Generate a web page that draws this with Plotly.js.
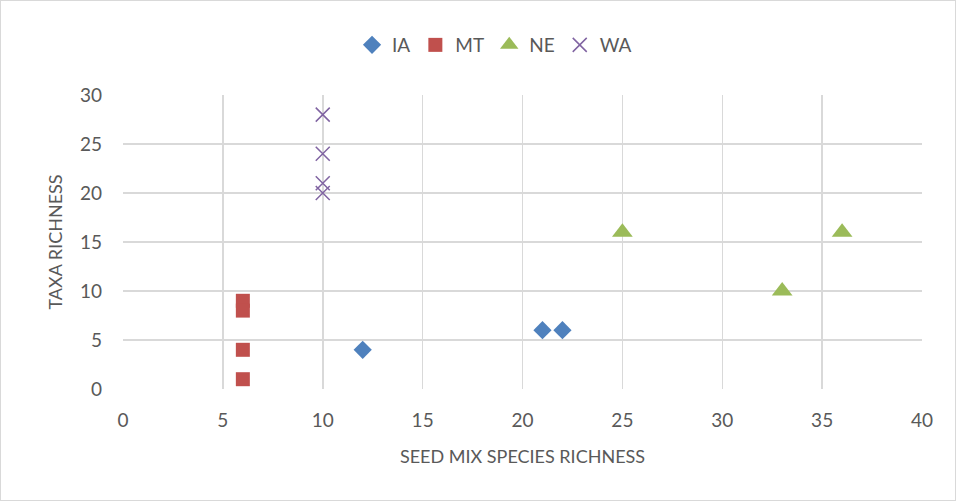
<!DOCTYPE html>
<html>
<head>
<meta charset="utf-8">
<script src="https://cdn.plot.ly/plotly-3.0.1.min.js"></script>
<style>
  html, body { margin: 0; padding: 0; background: #fff; }
  #chart { width: 956px; height: 501px; box-sizing: border-box; border: 1px solid #d9d9d9; }
</style>
</head>
<body>
<div id="chart"></div>
<script>
// Seed-mix species richness (x) vs. taxa richness (y), by state
const iaX = [12, 21, 22];
const iaY = [4, 6, 6];
const mtX = [6, 6, 6, 6];
const mtY = [9, 8, 4, 1];
const neX = [25, 33, 36];
const neY = [16, 10, 16];
const waX = [10, 10, 10, 10];
const waY = [28, 24, 21, 20];

const font = "Lato, 'Open Sans', 'Liberation Sans', sans-serif";
const textGray = '#595959';
const gridGray = '#d9d9d9';

const traces = [
  { name: 'IA', x: iaX, y: iaY, mode: 'markers', type: 'scatter',
    marker: { symbol: 'diamond', size: 14, color: '#4f81bd' } },
  { name: 'MT', x: mtX, y: mtY, mode: 'markers', type: 'scatter',
    marker: { symbol: 'square', size: 14, color: '#c0504d' } },
  { name: 'NE', x: neX, y: neY, mode: 'markers', type: 'scatter',
    marker: { symbol: 'triangle-up', size: 18, color: '#9bbb59' } },
  { name: 'WA', x: waX, y: waY, mode: 'markers', type: 'scatter',
    marker: { symbol: 'x-thin', size: 14, color: '#8064a2', line: { width: 1.5, color: '#8064a2' } } }
];

const layout = {
  width: 954, height: 499,
  margin: { l: 122, r: 33, t: 94, b: 111 },
  paper_bgcolor: '#fff',
  plot_bgcolor: '#fff',
  font: { family: font, size: 18, color: textGray },
  showlegend: true,
  legend: {
    orientation: 'h', x: 0.465, xanchor: 'center', y: 1.17, yanchor: 'middle',
    font: { size: 19, color: textGray }, itemclick: false, itemwidth: 30
  },
  xaxis: {
    range: [0, 40], dtick: 5, tick0: 0,
    showgrid: true, gridcolor: gridGray, gridwidth: 1.5,
    zeroline: false, showline: false, ticks: '',
    ticklabelstandoff: 18,
    tickfont: { size: 19, color: textGray },
    title: { text: 'SEED MIX SPECIES RICHNESS', font: { size: 18, color: textGray }, standoff: 20 }
  },
  yaxis: {
    range: [0, 30], dtick: 5, tick0: 0,
    showgrid: true, gridcolor: gridGray, gridwidth: 1.5,
    zeroline: false, showline: false, ticks: '',
    ticklabelstandoff: 20,
    tickfont: { size: 19, color: textGray },
    title: { text: 'TAXA RICHNESS', font: { size: 18, color: textGray }, standoff: 12 }
  }
};

Plotly.newPlot('chart', traces, layout, { displayModeBar: false, staticPlot: true });
</script>
</body>
</html>
